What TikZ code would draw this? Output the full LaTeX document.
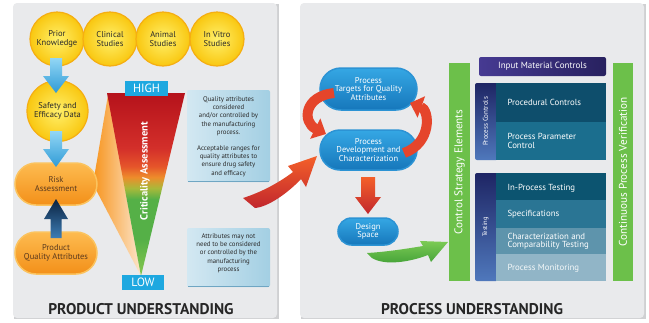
\documentclass[tikz,border=0pt]{standalone}
\usepackage{fontspec}
\setmainfont{PT Sans}
\usetikzlibrary{shapes.misc,arrows.meta}
\definecolor{panel}{HTML}{E9EAEC}
\definecolor{paneledge}{HTML}{CFD0D2}
\definecolor{yin}{HTML}{FFF06A}
\definecolor{yout}{HTML}{F9C710}
\definecolor{yrim}{HTML}{F5AE12}
\definecolor{txtdark}{HTML}{2A2A2A}
\definecolor{otop}{HTML}{FDBB50}
\definecolor{obot}{HTML}{F39019}
\definecolor{orim}{HTML}{FBC35E}
\definecolor{otext}{HTML}{5A3A1E}
\definecolor{cyanbox}{HTML}{1EA8E0}
\definecolor{bluetop}{HTML}{92D6F5}
\definecolor{bluebot}{HTML}{2F9BD6}
\definecolor{navytop}{HTML}{0A2240}
\definecolor{navybot}{HTML}{3D7DB5}
\definecolor{tbl}{HTML}{D3E8F2}
\definecolor{tbr}{HTML}{A3CFE3}
\definecolor{tbedge}{HTML}{6FA6C3}
\definecolor{cdred}{HTML}{B5121B}
\definecolor{cred}{HTML}{D32F2A}
\definecolor{corr}{HTML}{E5542A}
\definecolor{corange}{HTML}{EE8C2B}
\definecolor{cyellow}{HTML}{A9B93A}
\definecolor{cgreen}{HTML}{55B047}
\definecolor{clgreen}{HTML}{86C74E}
\definecolor{fanor}{HTML}{F7941D}
\definecolor{fanlt}{HTML}{FCE6CC}
\definecolor{rtop}{HTML}{F4602A}
\definecolor{rbot}{HTML}{C1272D}
\definecolor{rmid}{HTML}{E5452B}
\definecolor{ovtop}{HTML}{35A7E4}
\definecolor{ovbot}{HTML}{1677BB}
\definecolor{ovrim}{HTML}{2C93D4}
\definecolor{gbar}{HTML}{6CC04A}
\definecolor{garrtop}{HTML}{7CCB55}
\definecolor{garrbot}{HTML}{3F9E35}
\definecolor{indl}{HTML}{463A92}
\definecolor{indr}{HTML}{28215F}
\definecolor{striptop}{HTML}{1E2564}
\definecolor{stripbot}{HTML}{4F78BC}
\definecolor{rowa}{HTML}{0E4E6C}
\definecolor{rowb}{HTML}{1B6E8E}
\definecolor{rowc}{HTML}{0C5470}
\definecolor{rowd}{HTML}{2A7594}
\definecolor{rowe}{HTML}{5E94AC}
\definecolor{rowf}{HTML}{91B5C7}
\pgfdeclareverticalshading{crit}{100bp}{color(0bp)=(clgreen); color(25bp)=(clgreen); color(35bp)=(cgreen); color(46bp)=(cgreen); color(49bp)=(cyellow); color(52bp)=(corange); color(55bp)=(corr); color(60bp)=(cred); color(75bp)=(cdred); color(100bp)=(cdred)}
\tikzset{
  ycirc/.style={circle, minimum size=54pt, inner sep=0pt, inner color=yin, outer color=yout, draw=yrim, line width=1.2pt, font=\fontsize{8.5}{8.6}\selectfont, text=txtdark, align=center},
  onode/.style={rounded rectangle, minimum width=82pt, minimum height=42pt, inner sep=0pt, top color=otop, bottom color=obot, draw=orim, line width=1.5pt, font=\fontsize{8.5}{8.6}\selectfont, text=otext, align=center},
  cylabel/.style={fill=cyanbox, text=white, font=\fontsize{12}{12}\selectfont, inner sep=0pt, minimum height=15pt},
  tboxtxt/.style={font=\fontsize{6.8}{8.3}\selectfont, text=txtdark, align=center},
  bluearr/.style={top color=bluetop, bottom color=bluebot},
  oval/.style={rounded rectangle, top color=ovtop, bottom color=ovbot, draw=ovrim, line width=1.5pt, text=white, font=\fontsize{8.5}{8.3}\selectfont, align=center, inner sep=0pt},
  redline/.style={draw=rmid, line width=10pt, -{Triangle[width=22pt,length=12pt]}},
  gbarnode/.style={fill=gbar, inner sep=0pt},
  bartxt/.style={rotate=90, text=white, font=\fontsize{11.2}{11}\selectfont},
  rowtxt/.style={text=white, font=\fontsize{8.8}{8.3}\selectfont, align=left, anchor=west},
  heading/.style={font=\fontsize{15.5}{15}\selectfont\bfseries, text=black!85}
}
\begin{document}
\begin{tikzpicture}[x=1pt,y=-1pt]
\useasboundingbox (0,0) rectangle (649,322);
\fill[white] (0,0) rectangle (649,322);
% panels
\fill[paneledge] (14,4) rectangle (279,319);
\fill[panel, rounded corners=4pt] (13,3) rectangle (277,318);
\fill[paneledge] (301,4) rectangle (646,319);
\fill[panel, rounded corners=4pt] (300,3) rectangle (644,318);

% ---------------- LEFT PANEL ----------------
% fan
\shade[left color=fanor, right color=fanlt] (108,95) -- (93,184) -- (141,276) -- cycle;
% criticality triangle
\shade[shading=crit] (107,93) -- (185,93) -- (141,276) -- cycle;
\node[cylabel, minimum width=43pt] (high) at (146.5,88.5) {HIGH};
\node[cylabel, minimum width=42pt] (low) at (143,282.5) {LOW};
\node[rotate=90, text=white, font=\fontsize{10.5}{10.5}\selectfont\bfseries] (crit) at (145,171) {Criticality Assessment};

% circles
\node[ycirc] (prior) at (57,39) {Prior\\Knowledge};
\node[ycirc] (clin) at (110,39) {Clinical\\Studies};
\node[ycirc] (anim) at (163,39) {Animal\\Studies};
\node[ycirc] (vitro) at (217,39) {In Vitro\\Studies};
\node[ycirc, minimum size=61pt] (safety) at (57.5,111) {Safety and\\Efficacy Data};

% orange nodes
\node[onode] (risk) at (56,184) {Risk\\Assessment};
\node[onode] (pqa) at (56,253) {Product\\Quality Attributes};

% blue arrows
\shade[bluearr] (50,58) -- (62,58) -- (62,76) -- (69,76) -- (56,93) -- (43,76) -- (50,76) -- cycle;
\shade[bluearr] (50,131) -- (62,131) -- (62,149) -- (69,149) -- (56,167) -- (43,149) -- (50,149) -- cycle;
% dark up arrow
\shade[top color=navytop, bottom color=navybot] (56,199) -- (68,219) -- (61.5,219) -- (61.5,238) -- (50.5,238) -- (50.5,219) -- (44,219) -- cycle;

% text boxes
\shade[left color=tbl, right color=tbr, rounded corners=2pt] (187,90) rectangle (270,182);
\draw[tbedge, line width=1.5pt] (188,181.5) -- (269,181.5);
\node[tboxtxt] (tb1) at (228.5,136.5) {Quality attributes\\considered\\and/or controlled by\\the manufacturing\\process.\\[7.7pt]Acceptable ranges for\\quality attributes to\\ensure drug safety\\and efficacy};
\shade[left color=tbl, right color=tbr, rounded corners=2pt] (187,228) rectangle (270,287);
\draw[tbedge, line width=1.5pt] (188,286.5) -- (269,286.5);
\node[tboxtxt] (tb2) at (228.5,253) {Attributes may not\\need to be considered\\or controlled by the\\manufacturing\\process};

\node[heading] (pu) at (141,309) {PRODUCT UNDERSTANDING};

% big red arrow between panels
\shade[top color=rtop, bottom color=rbot] (243,198) .. controls (262,192) and (280,182) .. (293,172) -- (288,166) -- (317,156) -- (306,187) -- (301,179) .. controls (288,193) and (268,207) .. (255,208) -- cycle;

% ---------------- RIGHT PANEL ----------------
\node[oval, minimum width=97pt, minimum height=42pt] (tgt) at (368.5,89) {Process\\Targets for Quality\\Attributes};
\node[oval, minimum width=97pt, minimum height=40pt] (dev) at (368.5,150) {Process\\Development and\\Characterization};
\node[oval, minimum width=60pt, minimum height=27pt] (ds) at (368,231.5) {Design\\Space};

% circular red arrows
\draw[redline] (334,93) .. controls (304,96) and (302,122) .. (326,134);
\draw[redline] (404,153) .. controls (432,143) and (430,110) .. (410,103);

% down red arrow
\shade[top color=rtop, bottom color=rbot] (361,177) -- (375,177) -- (375,197) -- (381,197) -- (368,214) -- (355,197) -- (361,197) -- cycle;

% green arrow
\shade[top color=garrtop, bottom color=garrbot] (367,253) .. controls (385,252) and (405,249) .. (423,246) -- (420,241) -- (448,242) -- (431,262) -- (428,255) .. controls (410,262) and (385,266) .. (372,258) -- cycle;

% green bars
\node[gbarnode, minimum width=21pt, minimum height=218pt] (cse) at (459.5,172) {};
\node[bartxt] (csetxt) at (cse.center) {Control Strategy Elements};
\node[gbarnode, minimum width=20pt, minimum height=218pt] (cpv) at (623,172) {};
\node[bartxt] (cpvtxt) at (cpv.center) {Continuous Process Verification};

% input material controls
\shade[left color=indl, right color=indr, rounded corners=2pt] (479,57) rectangle (606,76);
\node[text=white, font=\fontsize{9}{9}\selectfont] (imc) at (542.5,66.5) {Input Material Controls};

% process controls block
\shade[top color=striptop, bottom color=stripbot, rounded corners=2pt] (475,83) rectangle (498,160);
\fill[rowa] (496,83) rectangle (606,122);
\fill[rowb] (496,122) rectangle (606,160);
\node[rotate=90, text=white, font=\fontsize{7}{7}\selectfont] (pctxt) at (485.5,121.5) {Process Controls};
\node[rowtxt] (proc) at (504,102.5) {Procedural Controls};
\node[rowtxt] (ppc) at (504,141) {Process Parameter\\Control};

% testing block
\shade[top color=striptop, bottom color=stripbot, rounded corners=2pt] (475,173) rectangle (498,281);
\fill[rowc] (496,173) rectangle (606,200);
\fill[rowd] (496,200) rectangle (606,228);
\fill[rowe] (496,228) rectangle (606,254);
\fill[rowf] (496,254) rectangle (606,281);
\node[rotate=90, text=white, font=\fontsize{6.5}{6.5}\selectfont] (testtxt) at (485.5,227) {Testing};
\node[rowtxt] (ipt) at (504,188) {In-Process Testing};
\node[rowtxt] (spec) at (504,214) {Specifications};
\node[rowtxt] (char) at (504,241) {Characterization and\\Comparability Testing};
\node[rowtxt, text=white!90!rowf] (pm) at (504,268) {Process Monitoring};

\node[heading] (pru) at (472,309) {PROCESS UNDERSTANDING};
\end{tikzpicture}
\end{document}
